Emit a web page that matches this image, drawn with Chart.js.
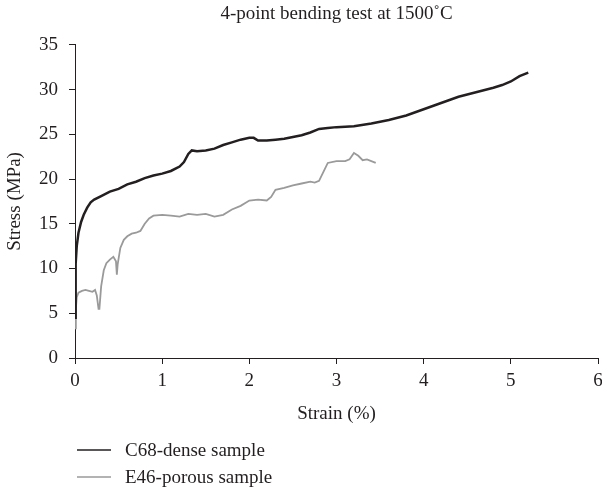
<!DOCTYPE html>
<html>
<head>
<meta charset="utf-8">
<script src="https://cdn.jsdelivr.net/npm/chart.js@4"></script>
<style>
  html, body { margin: 0; padding: 0; background: #fff; }
  #wrap { width: 602px; height: 489px; }
</style>
</head>
<body>
<div id="wrap"><canvas id="c"></canvas></div>
<script>
// --- data ---
const denseStrain = [0, 0.005, 0.01, 0.02, 0.04, 0.07, 0.1, 0.14, 0.18, 0.22, 0.3, 0.4, 0.5, 0.6, 0.7, 0.8, 0.9, 1.0, 1.1, 1.2, 1.25, 1.3, 1.34, 1.4, 1.5, 1.6, 1.7, 1.8, 1.9, 2.0, 2.05, 2.1, 2.2, 2.3, 2.4, 2.5, 2.6, 2.7, 2.8, 2.9, 3.0, 3.2, 3.4, 3.6, 3.8, 4.0, 4.2, 4.4, 4.6, 4.8, 4.9, 5.0, 5.1, 5.2];
const denseStress = [4.5, 8, 10.5, 12.5, 14, 15.2, 16, 16.8, 17.4, 17.7, 18.1, 18.6, 18.9, 19.4, 19.7, 20.1, 20.4, 20.6, 20.9, 21.4, 21.9, 22.8, 23.2, 23.1, 23.2, 23.4, 23.8, 24.1, 24.4, 24.6, 24.6, 24.3, 24.3, 24.4, 24.5, 24.7, 24.9, 25.2, 25.6, 25.7, 25.8, 25.9, 26.2, 26.6, 27.1, 27.8, 28.5, 29.2, 29.7, 30.2, 30.5, 30.9, 31.5, 31.9];

const porousStrain = [0, 0.01, 0.02, 0.04, 0.08, 0.12, 0.16, 0.2, 0.23, 0.25, 0.27, 0.28, 0.3, 0.33, 0.36, 0.4, 0.44, 0.47, 0.48, 0.49, 0.52, 0.56, 0.6, 0.65, 0.7, 0.75, 0.8, 0.85, 0.9, 1.0, 1.1, 1.2, 1.3, 1.4, 1.5, 1.6, 1.7, 1.8, 1.9, 2.0, 2.1, 2.2, 2.25, 2.3, 2.4, 2.5, 2.6, 2.7, 2.75, 2.8, 2.85, 2.9, 3.0, 3.1, 3.15, 3.2, 3.25, 3.3, 3.35, 3.45];
const porousStress = [3.3, 5.5, 6.8, 7.3, 7.5, 7.6, 7.5, 7.4, 7.6, 7.0, 5.5, 5.5, 8.0, 9.8, 10.6, 11.0, 11.3, 10.8, 9.3, 10.5, 12.3, 13.2, 13.6, 13.9, 14.0, 14.2, 15.0, 15.6, 15.9, 16.0, 15.9, 15.8, 16.1, 16.0, 16.1, 15.8, 16.0, 16.6, 17.0, 17.6, 17.7, 17.6, 18.0, 18.8, 19.0, 19.3, 19.5, 19.7, 19.6, 19.8, 20.8, 21.8, 22.0, 22.0, 22.2, 22.9, 22.6, 22.1, 22.2, 21.8];

const seriesNames = ["C68-dense sample", "E46-porous sample"];
const xTicks = [0, 1, 2, 3, 4, 5, 6];
const yTicks = [0, 5, 10, 15, 20, 25, 30, 35];

const ink = "#231f20";
const serif = "'Liberation Serif', 'DejaVu Serif', serif";
const fontSize = 19;

const toPoints = (xs, ys) => xs.map((x, i) => ({ x: x, y: ys[i] }));

// legend stacked under the plot, left-aligned
const stackedLegend = {
  id: "stackedLegend",
  afterDraw(chart) {
    const ctx = chart.ctx;
    const left = chart.chartArea.left + 2;
    ctx.save();
    ctx.font = fontSize + "px " + serif;
    ctx.textBaseline = "middle";
    chart.data.datasets.forEach((ds, i) => {
      const y = 450 + i * 27;
      ctx.strokeStyle = ds.borderColor;
      ctx.lineWidth = 1.5;
      ctx.beginPath();
      ctx.moveTo(left, y);
      ctx.lineTo(left + 34, y);
      ctx.stroke();
      ctx.fillStyle = ink;
      ctx.fillText(ds.label, left + 48, y + 1);
    });
    ctx.restore();
  }
};

new Chart(document.getElementById("c").getContext("2d"), {
  type: "line",
  data: {
    datasets: [
      {
        label: seriesNames[0],
        data: toPoints(denseStrain, denseStress),
        borderColor: ink,
        borderWidth: 2.5,
        pointRadius: 0,
        tension: 0
      },
      {
        label: seriesNames[1],
        data: toPoints(porousStrain, porousStress),
        borderColor: "#9a9a9a",
        borderWidth: 1.8,
        pointRadius: 0,
        tension: 0
      }
    ]
  },
  options: {
    responsive: true,
    maintainAspectRatio: false,
    animation: false,
    layout: { padding: { left: 0, right: 4, top: 0, bottom: 64 } },
    plugins: {
      legend: { display: false },
      tooltip: { enabled: false },
      title: {
        display: true,
        fullSize: false,
        text: "4-point bending test at 1500\u02daC",
        color: ink,
        font: { family: serif, size: fontSize, weight: "normal" },
        padding: { top: 3, bottom: 19 }
      }
    },
    scales: {
      x: {
        type: "linear",
        min: 0,
        max: 6,
        afterBuildTicks: (axis) => { axis.ticks = xTicks.map(v => ({ value: v })); },
        ticks: { color: ink, font: { family: serif, size: fontSize }, padding: 6, maxRotation: 0 },
        grid: { drawOnChartArea: false, drawTicks: true, tickLength: 6, color: ink },
        border: { display: true, color: ink, width: 1 },
        title: { display: true, text: "Strain (%)", color: ink, font: { family: serif, size: fontSize }, padding: { top: 8, bottom: 0 } },
        afterFit: (axis) => {
          axis.height = 67;
          axis.paddingRight = 0;
          axis.paddingLeft = 0;
        }
      },
      y: {
        min: 0,
        max: 35,
        afterBuildTicks: (axis) => { axis.ticks = yTicks.map(v => ({ value: v })); },
        ticks: { color: ink, font: { family: serif, size: fontSize }, padding: 11 },
        grid: { drawOnChartArea: false, drawTicks: true, tickLength: 6, color: ink },
        border: { display: true, color: ink, width: 1 },
        title: { display: true, text: "Stress (MPa)", color: ink, font: { family: serif, size: fontSize }, padding: { top: 4, bottom: 4 } },
        afterFit: (axis) => { axis.width = 75; }
      }
    }
  },
  plugins: [stackedLegend]
});
</script>
</body>
</html>
